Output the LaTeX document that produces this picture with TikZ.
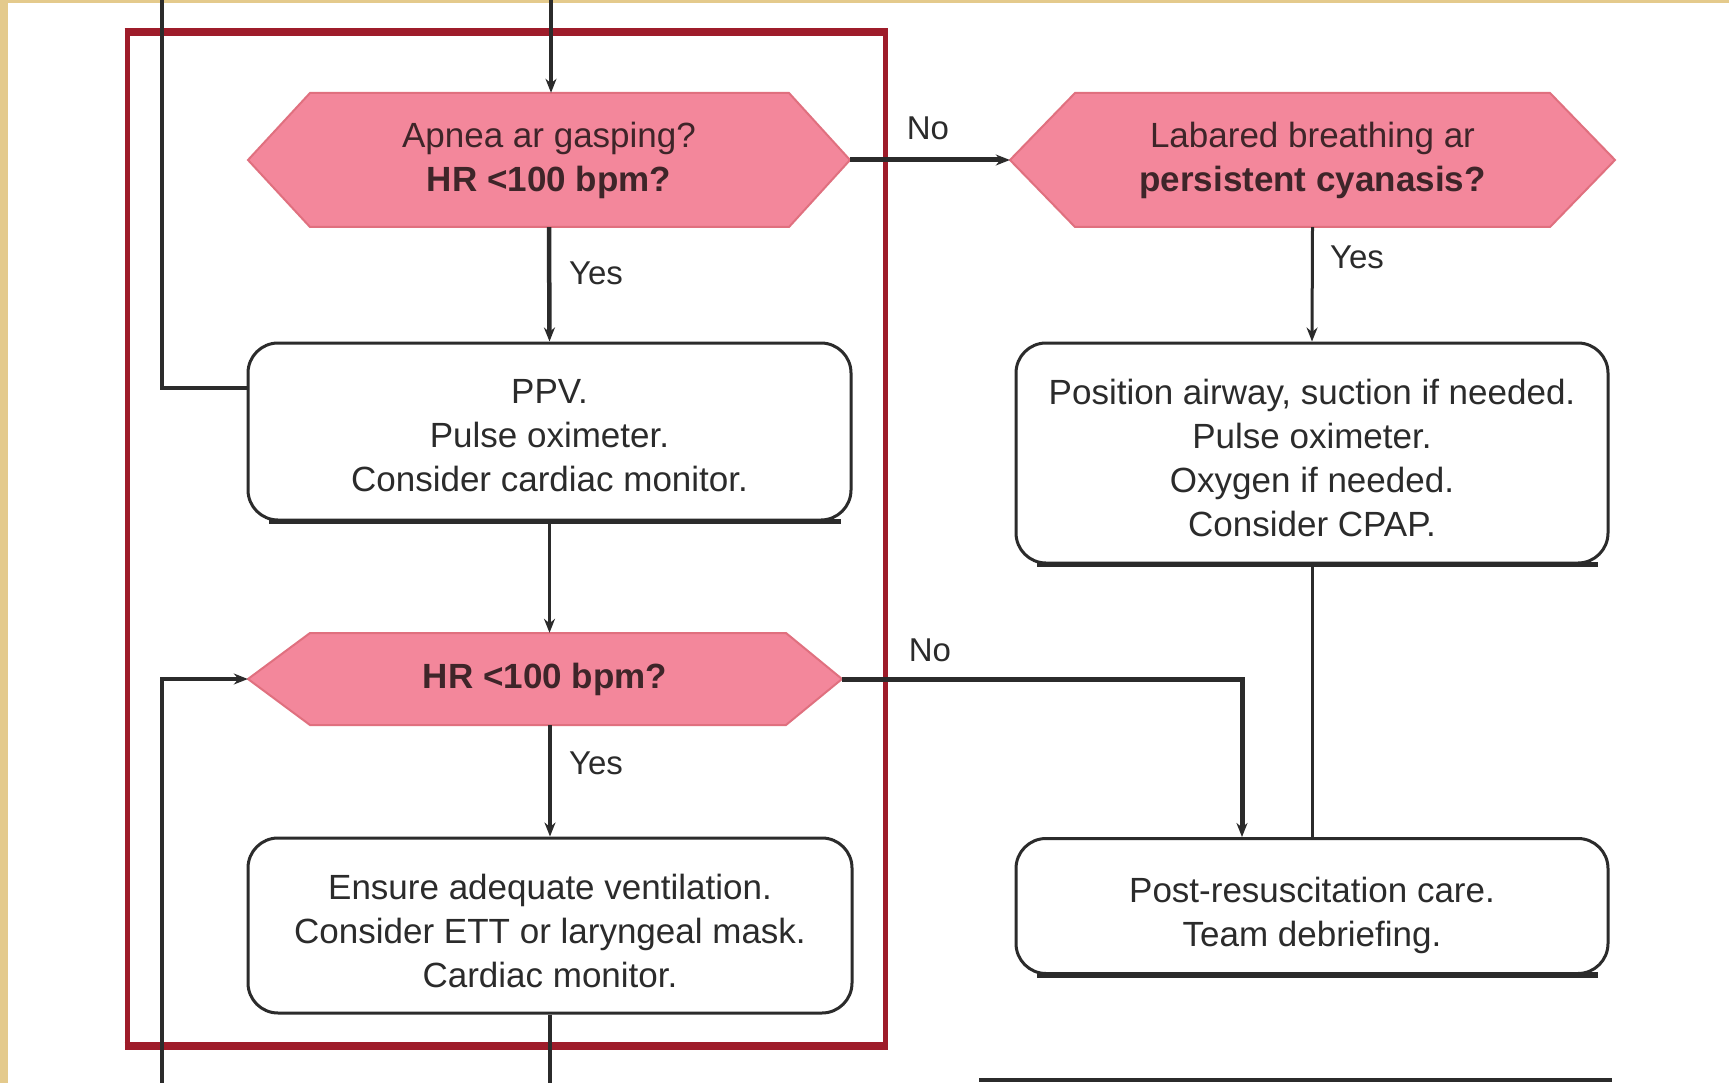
\documentclass[tikz,border=0pt]{standalone}
\usepackage{fontspec}
\setmainfont{Liberation Sans}
\usetikzlibrary{arrows.meta}
\definecolor{hexpink}{HTML}{F3879B}
\definecolor{hexedge}{HTML}{E0707F}
\definecolor{framered}{HTML}{9E1C2A}
\definecolor{beige}{HTML}{E4CA8C}
\definecolor{ink}{HTML}{2B2B2B}
\definecolor{hexink}{HTML}{3E2529}
\begin{document}
\begin{tikzpicture}[x=1pt,y=-1pt,
  txt/.style={font=\fontsize{35}{44}\selectfont, text=ink, align=center, inner sep=0pt},
  hexlabel/.style={txt, text=hexink, minimum height=134pt},
  actbox/.style={draw=ink, line width=3pt, rounded corners=30pt, inner sep=0pt, fill=white},
  heavyedge/.style={draw=ink, line width=5.5pt},
  conn/.style={draw=ink, line width=3.5pt},
  arr/.style={conn, -{Stealth[length=14pt,width=11pt]}},
  lbl/.style={font=\fontsize{33}{40}\selectfont, text=ink, inner sep=0pt},
  hexshape/.style={fill=hexpink, draw=hexedge, line width=2pt, line join=miter}
]
\useasboundingbox (0,0) rectangle (1729,1083);
\fill[white] (0,0) rectangle (1729,1083);
\fill[beige] (0,0) rectangle (8,1083);
\fill[beige] (0,0) rectangle (1729,3.5);

% red frame
\draw[framered, line width=5pt] (127,32) rectangle (885,1046);
\draw[framered, line width=8pt] (124.5,32) -- (887.5,32);
\draw[framered, line width=8pt] (124.5,1046) -- (887.5,1046);

% hexagon shapes
\path[hexshape] (248,160) -- (310,93) -- (789,93) -- (850,160) -- (789,227) -- (310,227) -- cycle;
\path[hexshape] (1010,160) -- (1075,93) -- (1550,93) -- (1615,160) -- (1550,227) -- (1075,227) -- cycle;
\path[hexshape] (248,679) -- (310,633) -- (786,633) -- (842,679) -- (786,725) -- (310,725) -- cycle;

% decision nodes
\node[hexlabel, minimum width=602pt] (h1) at (549,160) {Apnea ar gasping?\\\textbf{HR <100 bpm?}};
\node[hexlabel, minimum width=605pt] (h3) at (1312.5,160) {Labared breathing ar\\\textbf{persistent cyanasis?}};
\node[hexlabel, minimum width=594pt, minimum height=92pt] (h2) at (545,679) {\textbf{HR <100 bpm?}};

% action boxes
\node[actbox, minimum width=603pt, minimum height=177pt] (ppv) at (549.5,431.5) {};
\node[actbox, minimum width=592pt, minimum height=220pt] (b3) at (1312,453) {};
\node[actbox, minimum width=604pt, minimum height=175pt] (b4) at (550,925.5) {};
\node[actbox, minimum width=592pt, minimum height=135pt] (b5) at (1312,906) {};
\draw[heavyedge] ([xshift=22pt]ppv.south west) -- ([xshift=-12pt]ppv.south east);
\draw[heavyedge] ([xshift=22pt]b3.south west) -- ([xshift=-12pt]b3.south east);
\draw[heavyedge] ([xshift=22pt]b5.south west) -- ([xshift=-12pt]b5.south east);

% box texts
\node[txt] (ppvT) at (549.5,436) {PPV.\\Pulse oximeter.\\Consider cardiac monitor.};
\node[txt] (b3T) at (1312,458) {Position airway, suction if needed.\\Pulse oximeter.\\Oxygen if needed.\\Consider CPAP.};
\node[txt] (b4T) at (550,931) {Ensure adequate ventilation.\\Consider ETT or laryngeal mask.\\Cardiac monitor.};
\node[txt] (b5T) at (1312,915) {Post-resuscitation care.\\Team debriefing.};

% free ends
\coordinate (topA) at (551,0);
\coordinate (topL) at (162,0);
\coordinate (botL) at (162,1083);
\coordinate (botA) at (550,1083);

% connectors
\draw[arr] (topA) -- (topA |- h1.north);
\draw[conn] (topL) |- ([yshift=43.5pt]ppv.west);
\draw[arr, line width=4.5pt] (h1.south) -- (ppv.north);
\draw[arr, line width=5pt] (h1.east) -- (h3.west);
\draw[arr, line width=3pt] (h3.south) -- (b3.north);
\draw[arr] (ppv.south) -- (ppv.south |- h2.north);
\draw[arr] (botL) |- (h2.west);
\draw[arr, line width=5pt] (h2.east) -| ([xshift=-70pt]b5.north);
\draw[arr, line width=4.5pt] (b4.north |- h2.south) -- (b4.north);
\draw[conn, line width=3pt] (b3.south) -- (b5.north);
\draw[conn] (b4.south) -- (botA);

% cut-off box edge at bottom
\draw[ink, line width=3.5pt] (979,1080) -- (1612,1080);

% labels
\node[lbl] (no1) at (928,128) {No};
\node[lbl] (yes1) at (596,273) {Yes};
\node[lbl] (yes3) at (1357,257) {Yes};
\node[lbl] (no2) at (930,650) {No};
\node[lbl] (yes2) at (596,763) {Yes};
\end{tikzpicture}
\end{document}
